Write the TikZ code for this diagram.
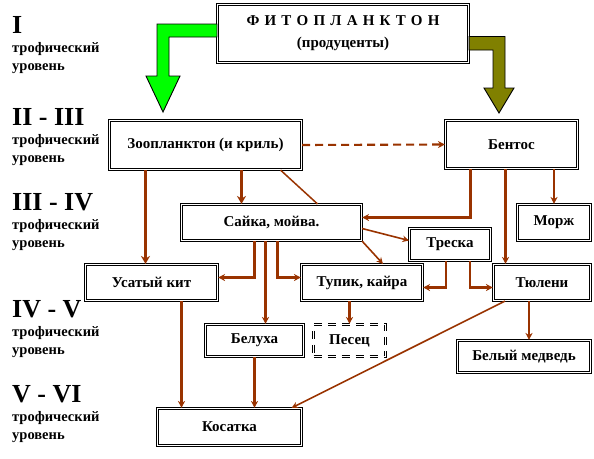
\documentclass[tikz,border=0pt]{standalone}
\usepackage{fontspec}
\setmainfont{Liberation Serif}
\usepackage{xcolor}
\usetikzlibrary{arrows.meta,positioning,calc}
\definecolor{Brown}{HTML}{993300}
\definecolor{Lime}{HTML}{00FF00}
\definecolor{Olive}{HTML}{808000}
\newcommand{\boxfont}{\fontsize{15}{18}\selectfont\bfseries}
\tikzset{
  sp/.style={
    draw=black, double, double distance=1.5pt, line width=1.1pt,
    fill=white, align=center, inner sep=2pt, font=\boxfont
  },
  spDash/.style={sp,dash pattern=on 8pt off 6pt},
  arr/.style={-{Stealth[length=7pt,width=7pt]},line width=2.1pt,draw=Brown},
  arrFat/.style={arr,line width=3.2pt,-{Stealth[length=8pt,width=9pt]}},
  arrThin/.style={arr,line width=1.6pt,-{Stealth[length=6.5pt,width=6.5pt]}},
  link/.style={line width=1.5pt,draw=Brown},
  bigArr/.style={draw=black,line width=.9pt},
  romnum/.style={anchor=base west,inner sep=0pt,font=\fontsize{26}{30}\selectfont\bfseries},
  lvl/.style={anchor=base west,inner sep=0pt,font=\fontsize{14.5}{16}\selectfont\bfseries}
}

\begin{document}
\begin{tikzpicture}[x=1pt,y=-1pt]
  \useasboundingbox (0,0) rectangle (594,458);

  \foreach \rn/\yy [count=\i] in {I/33, II - III/125, III - IV/210, IV - V/317, V - VI/402} {
    \node[romnum] (num\i) at (12,\yy) {\rn};
    \node[lvl] (tr\i) at (12,\yy+19) {трофический};
    \node[lvl] (ur\i) at (12,\yy+37) {уровень};
  }

  \node[sp,minimum width=251pt,minimum height=58pt] (phyto) at (343,33.5)
    {{\spaceskip=5.2pt Ф И Т О П Л А Н К Т О Н}\\[4pt](продуценты)};
  \node[sp,minimum width=192pt,minimum height=49pt] (zoo) at (205.5,145) {Зоопланктон (и криль)};
  \node[sp,minimum width=132pt,minimum height=48pt] (bentos) at (511.5,144.5) {Бентос};
  \node[sp,minimum width=180pt,minimum height=36pt] (saika) at (271.5,222.5) {Сайка, мойва.};
  \node[sp,minimum width=73pt,minimum height=36pt] (morzh) at (554,222.5) {Морж};
  \node[sp,minimum width=81pt,minimum height=32pt] (treska) at (450,244.5) {Треска};
  \node[sp,minimum width=132pt,minimum height=36pt] (kit) at (151.5,282.5) {Усатый кит};
  \node[sp,minimum width=121pt,minimum height=36pt] (tupik) at (362,282.5) {Тупик, кайра};
  \node[sp,minimum width=97pt,minimum height=36pt] (tyuleni) at (542,282.5) {Тюлени};
  \node[sp,minimum width=98pt,minimum height=32pt] (belukha) at (254.5,340.5) {Белуха};
  \node[spDash,minimum width=72pt,minimum height=32pt] (pesets) at (349.5,340.5) {Песец};
  \node[sp,minimum width=133pt,minimum height=32pt] (medved) at (524,356.5) {Белый медведь};
  \node[sp,minimum width=144pt,minimum height=37pt] (kosatka) at (229.5,427) {Косатка};

  \draw[bigArr,fill=Lime] ([yshift=9.5pt]phyto.west) -- (157,24) -- (157,76) -- (146,76)
    -- (163,112) -- (180,76) -- (169,76) -- (169,37) -- ([yshift=-3.5pt]phyto.west) -- cycle;
  \draw[bigArr,fill=Olive] ([yshift=-3pt]phyto.east) -- (505,36.5) -- (505,88) -- (514,88)
    -- (499,113) -- (484,88) -- (493,88) -- (493,50) -- ([yshift=-16.5pt]phyto.east) -- cycle;

  \draw[arr,dash pattern=on 8pt off 5pt] (zoo.east) -- (bentos.west);
  \draw[arrFat] ([xshift=-60pt]zoo.south) -- ([xshift=-60pt]zoo.south |- kit.north);
  \draw[arrFat] ([xshift=36pt]zoo.south) -- ([xshift=36pt]zoo.south |- saika.north);
  \draw[link] ([xshift=75pt]zoo.south) -- ([xshift=46pt]saika.north);
  \draw[arr] ([xshift=-41pt]bentos.south) |- ([yshift=5pt]saika.east);
  \draw[arr] ([xshift=-6pt]bentos.south) -- ([xshift=-6pt]bentos.south |- tyuleni.north);
  \draw[arr] (bentos.south -| morzh) -- (morzh.north);
  \draw[arrThin] ([yshift=-6pt]saika.east) -- ([yshift=4pt]treska.west);
  \draw[arrThin] (saika.south east) -- ([xshift=21pt]tupik.north);
  \draw[arr] ([xshift=-17pt]saika.south) |- ([yshift=5pt]kit.east);
  \draw[arr] ([xshift=-6pt]saika.south) -- ([xshift=-6pt]saika.south |- belukha.north);
  \draw[arr] ([xshift=6pt]saika.south) |- ([yshift=5pt]tupik.west);
  \draw[arr] ([xshift=-4pt]treska.south) |- ([yshift=-5pt]tupik.east);
  \draw[arr] ([xshift=20pt]treska.south) |- ([yshift=-5pt]tyuleni.west);
  \draw[arr] (tupik.south -| pesets) -- (pesets.north);
  \draw[arr] ([xshift=-13pt]tyuleni.south) -- ([xshift=-13pt]tyuleni.south |- medved.north);
  \draw[arrThin] ([xshift=-37pt]tyuleni.south) -- ([xshift=62pt]kosatka.north);
  \draw[arr] ([xshift=30pt]kit.south) -- ([xshift=30pt]kit.south |- kosatka.north);
  \draw[arr] (belukha.south) -- (belukha.south |- kosatka.north);
\end{tikzpicture}
\end{document}
